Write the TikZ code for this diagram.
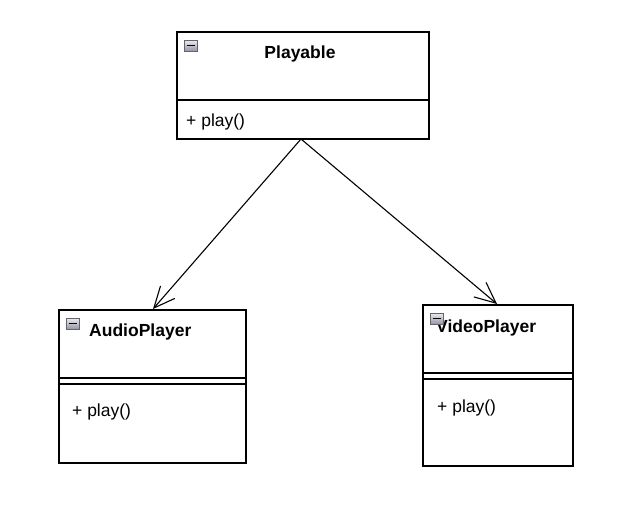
\documentclass[tikz,border=0pt]{standalone}
\usepackage{fontspec}
\setmainfont{Liberation Sans}
\usetikzlibrary{arrows.meta}
\definecolor{iconedge}{RGB}{100,100,110}
\definecolor{icontop}{RGB}{235,235,240}
\definecolor{iconbot}{RGB}{150,150,165}
\begin{document}
\begin{tikzpicture}[x=1pt,y=-1pt,
  box/.style={draw=black,line width=1.2pt,fill=white},
  title/.style={font=\fontsize{17.5}{20}\selectfont\bfseries,inner sep=0pt},
  member/.style={font=\fontsize{17.5}{20}\selectfont,anchor=base west,inner sep=0pt},
  icon/.style={draw=iconedge,line width=0.6pt,top color=icontop,bottom color=iconbot},
  gen/.style={line width=1.1pt,-{Straight Barb[length=21pt,width=19pt,line width=1.1pt]}}]
\useasboundingbox (0,0) rectangle (621,507);
\fill[white] (0,0) rectangle (621,507);
% Playable
\draw[box] (177,32) rectangle (429,139);
\draw[line width=1.2pt] (177,100) -- (429,100);
\draw[icon] (184,40) rectangle (197,51);
\draw[line width=1.3pt] (186.5,45.5) -- (194.5,45.5);
\node[title,anchor=base] (playable) at (300,58.5) {Playable};
\node[member] (pplay) at (186,126) {+ play()};
\coordinate (src) at (301,139);
% AudioPlayer
\draw[box] (59,310) rectangle (246,463);
\draw[line width=1.2pt] (59,378) -- (246,378);
\draw[line width=1.2pt] (59,384) -- (246,384);
\draw[icon] (66,318) rectangle (79,329);
\draw[line width=1.3pt] (68.5,323.5) -- (76.5,323.5);
\node[title,anchor=base west] (audio) at (89,336) {AudioPlayer};
\node[member] (aplay) at (72,416) {+ play()};
\coordinate (atop) at (153,309);
% VideoPlayer
\draw[box] (423,305) rectangle (573,466);
\draw[line width=1.2pt] (423,373) -- (573,373);
\draw[line width=1.2pt] (423,379) -- (573,379);
\node[title,anchor=base west] (video) at (436,332) {VideoPlayer};
\draw[icon] (430,313) rectangle (443,324);
\draw[line width=1.3pt] (432.5,318.5) -- (440.5,318.5);
\node[member] (vplay) at (437,412) {+ play()};
\coordinate (vtop) at (497,304);
% connectors
\draw[gen] (src) -- (atop);
\draw[gen] (src) -- (vtop);
\end{tikzpicture}
\end{document}
